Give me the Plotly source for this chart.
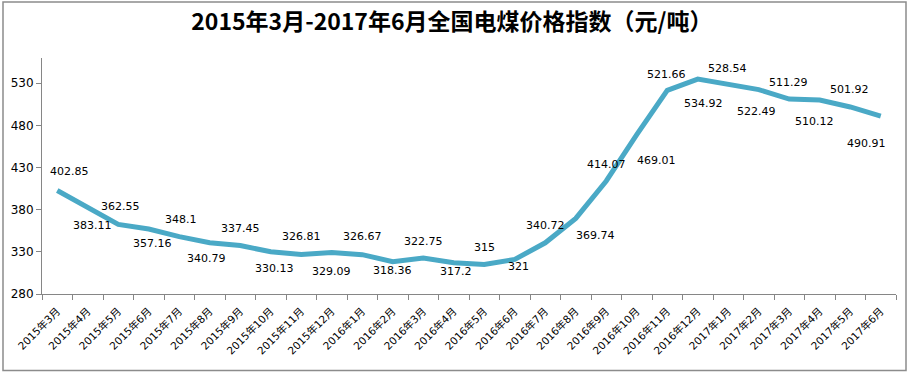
import plotly.graph_objects as go

months = ["2015年3月", "2015年4月", "2015年5月", "2015年6月", "2015年7月", "2015年8月",
          "2015年9月", "2015年10月", "2015年11月", "2015年12月", "2016年1月", "2016年2月",
          "2016年3月", "2016年4月", "2016年5月", "2016年6月", "2016年7月", "2016年8月",
          "2016年9月", "2016年10月", "2016年11月", "2016年12月", "2017年1月", "2017年2月",
          "2017年3月", "2017年4月", "2017年5月", "2017年6月"]
index_values = [402.85, 383.11, 362.55, 357.16, 348.1, 340.79, 337.45, 330.13, 326.81, 329.09,
                326.67, 318.36, 322.75, 317.2, 315, 321, 340.72, 369.74, 414.07, 469.01,
                521.66, 534.92, 528.54, 522.49, 511.29, 510.12, 501.92, 490.91]
value_labels = ["402.85", "383.11", "362.55", "357.16", "348.1", "340.79", "337.45", "330.13",
                "326.81", "329.09", "326.67", "318.36", "322.75", "317.2", "315", "321",
                "340.72", "369.74", "414.07", "469.01", "521.66", "534.92", "528.54", "522.49",
                "511.29", "510.12", "501.92", "490.91"]

# label offsets in pixels (style only)
label_dy = [19, -18, 17.5, -14.5, 17.5, -15.5, 17.5, -16.5, 18, -19, 18, -9, 16.5, -9, 17, -7,
            17, -17, 17, -26, 16, -24, 16, -22, 16.5, -21, 17, -27]
label_dx = [12, 5, 2, 4, 2, -3, 0, 4, 0, 0, 0, 0, 0, 2, 0, 4,
            0, 20, 0, 20, -1, 6, -1, -2, -1, -5, -1, -14]

W, H = 911, 373
L, R, T, B = 42, 15, 58, 79

fig = go.Figure()
fig.add_trace(go.Scatter(
    x=months, y=index_values, mode="lines",
    line=dict(color="#4AA9C6", width=5),
    hoverinfo="x+y", showlegend=False,
))

for m, v, lab, dy, dx in zip(months, index_values, value_labels, label_dy, label_dx):
    fig.add_annotation(x=m, y=v, text=lab, showarrow=False, yshift=dy, xshift=dx,
                       font=dict(family="DejaVu Sans", size=11, color="#000000"))

pw, ph = W - L - R, H - T - B
def px_x(p):
    return (p - L) / pw
def px_y(p):
    return (H - B - p) / ph

fig.add_shape(type="rect", xref="paper", yref="paper",
              x0=px_x(3), x1=px_x(906), y0=px_y(370.5), y1=px_y(2),
              line=dict(color="#8C8C8C", width=1.5), fillcolor="rgba(0,0,0,0)", layer="below")

fig.update_layout(
    width=W, height=H,
    margin=dict(l=L, r=R, t=T, b=B, autoexpand=False),
    paper_bgcolor="white", plot_bgcolor="white",
    title=dict(text="<b>2015年3月-2017年6月全国电煤价格指数（元/吨）</b>",
               x=0.496, xref="container", xanchor="center", y=1 - 22 / H, yref="container",
               yanchor="middle", automargin=False,
               font=dict(family="Noto Sans CJK SC", size=23, color="#000000")),
    xaxis=dict(type="category", range=[-0.5, len(months) - 0.5], tickson="boundaries",
               ticks="outside", ticklen=5, tickcolor="#868686", tickangle=-45,
               ticklabelstandoff=6,
               showline=True, linecolor="#868686", linewidth=1, showgrid=False,
               automargin=False,
               tickfont=dict(family="DejaVu Sans, Noto Sans CJK SC", size=10.5, color="#000000")),
    yaxis=dict(range=[280, 560], tick0=280, dtick=50, ticks="outside", ticklen=5,
               tickcolor="#868686", showline=True, linecolor="#868686", linewidth=1,
               showgrid=False, zeroline=False, automargin=False,
               tickfont=dict(family="DejaVu Sans", size=12, color="#000000")),
)

fig.write_html("out.html", config={"displayModeBar": False},
               post_script="document.body.style.margin='0';document.body.style.overflow='hidden';")
